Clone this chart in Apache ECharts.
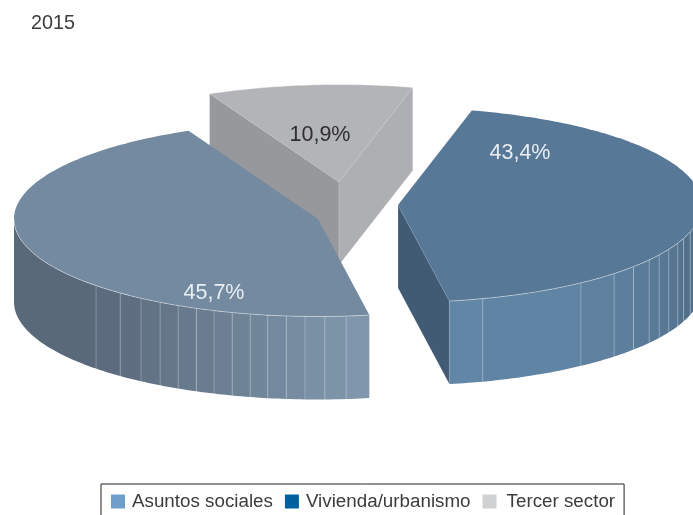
<!DOCTYPE html>
<html>
<head>
<meta charset="utf-8">
<title>2015</title>
<style>
  html, body { margin: 0; padding: 0; background: #fff; }
  #main { width: 693px; height: 515px; }
</style>
<script src="https://cdn.jsdelivr.net/npm/echarts@6/dist/echarts.min.js"></script>
</head>
<body>
<div id="main"></div>
<script>
var yearLabel = "2015";
var categories = ["Asuntos sociales", "Vivienda/urbanismo", "Tercer sector"];
var shares = [45.7, 43.4, 10.9];

// colores de la leyenda (no coinciden con los de la tarta)
var legendColors = ["#6f9ecb", "#0060a0", "#d0d1d3"];

// pie drawn by hand: echarts has no 3d pie
var RX = 304, RY = 97.5, DEPTH = 83;
var START_ANGLE = 334.8; // degrees clockwise from the back of the pie, slices run anticlockwise

var sliceStyles = [
  {
    apex: [318, 219], labelAt: [-104, 74], labelColor: "#e9eef3",
    top: "#738aa1", faces: [null, null], rim: "rgba(255,255,255,0.5)",
    wall: ["#8096ac", "#59697a"],
    seams: [5.3, 1.3, -2.45, -6, -9.5, -12.9, -16.4, -20, -23.6, -27.4, -31.3, -35.6, -40.6, -46.9]
  },
  {
    apex: [398, 205], labelAt: [122, -52], labelColor: "#e9eef3",
    top: "#577896", faces: [null, "#425b74"], rim: "rgba(255,255,255,0.5)",
    wall: ["#6286a6", "#4f6d88"],
    seams: [16.2, 37, 45.3, 50.8, 55.7, 59.2, 63, 67, 70, 74]
  },
  {
    apex: [339, 182], labelAt: [-19, -47], labelColor: "#2e2e2e",
    top: "#b3b4b8", faces: ["#97989b", "#aeafb3"], rim: "rgba(255,255,255,0.5)",
    wall: null, seams: []
  }
];

function hexMix(a, b, t) {
  var out = "#";
  for (var i = 1; i < 7; i += 2) {
    var va = parseInt(a.substr(i, 2), 16);
    var vb = parseInt(b.substr(i, 2), 16);
    var v = Math.round(va + (vb - va) * t).toString(16);
    out += v.length < 2 ? "0" + v : v;
  }
  return out;
}

function rimPoint(apex, deg) {
  var rad = (deg * Math.PI) / 180;
  return [apex[0] + RX * Math.sin(rad), apex[1] - RY * Math.cos(rad)];
}

function arcPoints(apex, from, to) {
  var pts = [];
  var n = Math.max(2, Math.ceil(Math.abs(to - from)));
  for (var i = 0; i <= n; i++) {
    pts.push(rimPoint(apex, from + ((to - from) * i) / n));
  }
  return pts;
}

function drop(p) {
  return [p[0], p[1] + DEPTH];
}

// angulo (clockwise from back) where slice idx starts and ends
function sliceRange(idx) {
  var total = shares.reduce(function (s, v) { return s + v; }, 0);
  var done = 0;
  for (var i = 0; i < idx; i++) done += shares[i];
  var end = START_ANGLE - (done / total) * 360;
  return [end - (shares[idx] / total) * 360, end];
}

function renderSlice(params, api) {
  var idx = params.seriesIndex;
  var st = sliceStyles[idx];
  var value = api.value(0);
  var range = sliceRange(idx);
  var from = range[0], to = range[1];
  var apex = st.apex;
  var children = [];

  // caras rectas
  [from, to].forEach(function (deg, i) {
    if (!st.faces[i]) return;
    var p = rimPoint(apex, deg);
    children.push({
      type: "polygon",
      shape: { points: [apex, p, drop(p), drop(apex)] },
      style: { fill: st.faces[i], stroke: "rgba(255,255,255,0.3)", lineWidth: 0.5 }
    });
  });

  // curved wall, only the part that looks to the front
  if (st.wall) {
    var wallFrom = Math.max(from, 90), wallTo = Math.min(to, 270);
    var cuts = [wallFrom];
    st.seams.forEach(function (phi) { cuts.push(180 - phi); });
    cuts.push(wallTo);
    cuts.sort(function (a, b) { return a - b; });
    var count = cuts.length - 1;
    var lightAtStart = idx === 1 ? false : true;
    for (var c = 0; c < count; c++) {
      var upper = arcPoints(apex, cuts[c], cuts[c + 1]);
      var lower = upper.map(drop).reverse();
      var t = count > 1 ? c / (count - 1) : 0;
      if (!lightAtStart) t = 1 - t;
      children.push({
        type: "polygon",
        shape: { points: upper.concat(lower) },
        style: { fill: hexMix(st.wall[0], st.wall[1], t) }
      });
    }
    st.seams.forEach(function (phi) {
      var p = rimPoint(apex, 180 - phi);
      children.push({
        type: "line",
        shape: { x1: p[0], y1: p[1], x2: p[0], y2: p[1] + DEPTH },
        style: { stroke: "rgba(255,255,255,0.3)", lineWidth: 0.8 }
      });
    });
  }

  // tapa
  children.push({
    type: "polygon",
    shape: { points: [apex].concat(arcPoints(apex, from, to)) },
    style: { fill: st.top }
  });
  var rimFrom = st.wall ? Math.max(from, 90) : from;
  var rimTo = st.wall ? Math.min(to, 270) : to;
  children.push({
    type: "polyline",
    shape: { points: arcPoints(apex, rimFrom, rimTo) },
    style: { fill: "none", stroke: st.rim, lineWidth: 0.8 }
  });

  children.push({
    type: "text",
    style: {
      text: value.toFixed(1).replace(".", ",") + "%",
      x: apex[0] + st.labelAt[0],
      y: apex[1] + st.labelAt[1],
      fill: st.labelColor,
      font: '21.5px "Liberation Sans"',
      align: "center",
      verticalAlign: "middle"
    }
  });

  return { type: "group", children: children };
}

var legendText = { fontFamily: "Liberation Sans", fontSize: 18.8, color: "#3c3c3c" };

var chart = echarts.init(document.getElementById("main"));
chart.setOption({
  animation: false,
  title: {
    text: yearLabel,
    left: 31,
    top: 14,
    padding: 0,
    textStyle: { fontFamily: "Liberation Sans", fontSize: 19.8, fontWeight: "normal", color: "#3c3c3c" }
  },
  legend: {
    data: [
      { name: categories[0], textStyle: { padding: [0, 0, 0, 2] } },
      { name: categories[1], textStyle: { padding: [0, 2, 0, 2] } },
      { name: categories[2], textStyle: { padding: [0, 0, 0, 5] } }
    ],
    left: 101,
    top: 484,
    padding: [8, 9, 20, 10],
    itemWidth: 14,
    itemHeight: 14,
    itemGap: 12,
    icon: "rect",
    selectedMode: false,
    borderColor: "#222",
    borderWidth: 1,
    textStyle: legendText
  },
  series: categories.map(function (name, i) {
    return {
      name: name,
      type: "custom",
      coordinateSystem: "none",
      renderItem: renderSlice,
      silent: true,
      z: i === 2 ? 1 : 2,
      itemStyle: { color: legendColors[i] },
      data: [shares[i]]
    };
  })
});
</script>
</body>
</html>
